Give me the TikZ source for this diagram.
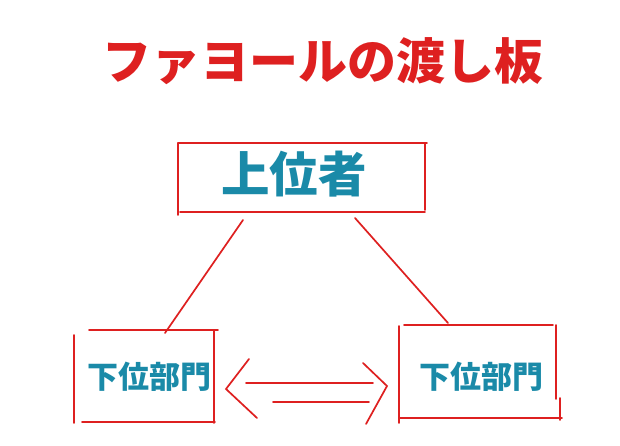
\documentclass[tikz,border=0pt]{standalone}
\usepackage{fontspec}
\newfontfamily\cjk{Noto Sans CJK JP}
\definecolor{sred}{RGB}{222,32,32}
\definecolor{steal}{RGB}{26,138,168}
\tikzset{
  stroke/.style={draw=sred, line width=1.7pt, line cap=round},
  title/.style={text=sred, font=\cjk\bfseries\fontsize{49}{52}\selectfont, inner sep=0pt},
  bigtext/.style={text=steal, font=\cjk\bfseries\fontsize{48.5}{51}\selectfont, inner sep=0pt},
  smalltext/.style={text=steal, font=\cjk\bfseries\fontsize{31}{34}\selectfont, inner sep=0pt}
}
\begin{document}
\begin{tikzpicture}[x=1pt,y=-1pt]
\useasboundingbox (0,0) rectangle (620,446);
\fill[white] (0,0) rectangle (620,446);
% title
\node[title] (ttl) at (323,61) {ファヨールの渡し板};
% top box
\node[bigtext] (top) at (294,174) {上位者};
\coordinate (t1) at (178,143); \coordinate (t2) at (427,143);
\coordinate (t3) at (178,215); \coordinate (t4) at (180,212);
\coordinate (t5) at (425,212); \coordinate (t6) at (425,143);
\coordinate (t7) at (425,210);
\draw[stroke] (t1) -- (t2);
\draw[stroke] (t1) -- (t3);
\draw[stroke] (t4) -- (t5);
\draw[stroke] (t6) -- (t7);
% left box
\node[smalltext] (lb) at (149,377) {下位部門};
\coordinate (l1) at (89,330); \coordinate (l2) at (218,330);
\coordinate (l3) at (214,330); \coordinate (l4) at (214,423);
\coordinate (l5) at (74,335); \coordinate (l6) at (74,423);
\coordinate (l7) at (82,422); \coordinate (l8) at (215,422);
\draw[stroke] (l1) -- (l2);
\draw[stroke] (l3) -- (l4);
\draw[stroke] (l5) -- (l6);
\draw[stroke] (l7) -- (l8);
% right box
\node[smalltext] (rb) at (481,377) {下位部門};
\coordinate (r1) at (404,325); \coordinate (r2) at (553,325);
\coordinate (r3) at (556,325); \coordinate (r4) at (556,399);
\coordinate (r5) at (560,398); \coordinate (r6) at (560,420);
\coordinate (r7) at (399,326); \coordinate (r8) at (399,423);
\coordinate (r9) at (399,418); \coordinate (r10) at (562,418);
\draw[stroke] (r1) -- (r2);
\draw[stroke] (r3) -- (r4);
\draw[stroke] (r5) -- (r6);
\draw[stroke] (r7) -- (r8);
\draw[stroke] (r9) -- (r10);
% connectors from top box
\coordinate (c1) at (243,220); \coordinate (c2) at (165,333);
\coordinate (c3) at (355,218); \coordinate (c4) at (448,323);
\draw[stroke] (c1) -- (c2);
\draw[stroke] (c3) -- (c4);
% double arrow
\coordinate (a1) at (249,359); \coordinate (a2) at (226,389); \coordinate (a3) at (257,418);
\coordinate (a4) at (246,383); \coordinate (a5) at (373,383);
\coordinate (a6) at (273,402); \coordinate (a7) at (369,402);
\coordinate (a8) at (363,363); \coordinate (a9) at (387,386); \coordinate (a10) at (366,424);
\draw[stroke] (a1) -- (a2) -- (a3);
\draw[stroke] (a4) -- (a5);
\draw[stroke] (a6) -- (a7);
\draw[stroke] (a8) -- (a9) -- (a10);
\end{tikzpicture}
\end{document}
